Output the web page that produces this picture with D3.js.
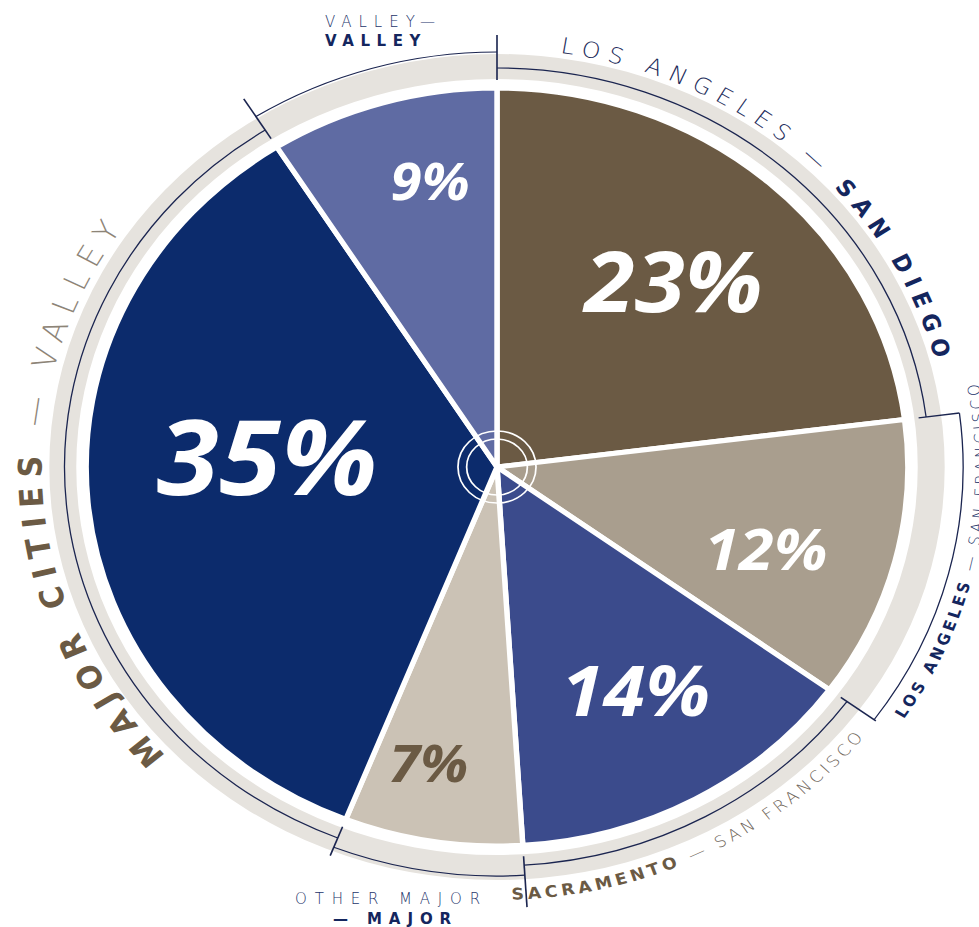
<!DOCTYPE html>
<html>
<head>
<meta charset="utf-8">
<script src="https://cdn.jsdelivr.net/npm/d3@7"></script>
<style>
  body { margin: 0; background: #fff; }
  svg { display: block; }
</style>
</head>
<body>
<div id="chart"></div>
<script>
// slices, clockwise from 12 o'clock
const shares = [23, 12, 14, 7, 35, 9];
const shareLabels = ["23%", "12%", "14%", "7%", "35%", "9%"];
const captionA = ["LOS ANGELES \u2014", "LOS ANGELES", "SACRAMENTO", "OTHER MAJOR", "MAJOR CITIES", "VALLEY\u2014"];
const captionB = ["SAN DIEGO", "\u2014 SAN FRANCISCO", "\u2014 SAN FRANCISCO", "\u2014 MAJOR", "\u2014 VALLEY", "VALLEY"];

// styling
const sliceColors = ["#6b5a44", "#a99e8e", "#3b4b8c", "#cbc2b5", "#0c2b6c", "#5f6ba3"];
const pctColors = ["#fff", "#fff", "#fff", "#6b5a44", "#fff", "#fff"];
const pctSize = [84, 58, 70, 52, 104, 52];
const pctRadius = [0.65, 0.69, 0.68, 0.80, 0.56, 0.77];
const pctNudge = [0, 4, -1, 3, 8, 4];          // degrees
const boldB = [true, false, false, true, false, true];
const strongColor = ["#14265e", "#14265e", "#6b5a44", "#14265e", "#6b5a44", "#14265e"];
const softColor = ["#1c2b5a", "#24346a", "#6f665a", "#24346a", "#8d8477", "#24346a"];
const ringLineR = [399, 430, 399, 409, 399, 415];
const tickR = [[387, 432], [392, 430], [392, 432], [390, 441], [387, 418], [389, 436]];
// arc captions: mode, baseline radius, span (deg), nudge (deg), font size
const capMode = ["out", "in", "in", "flat", "out", "flat"];
const capR = [418, 452, 433, 0, 420, 0];
const capSpan = [68, 45, 50, 0, 79, 0];
const capNudge = [0.6, -3, 2, 0, 1.5, 0];
const capSize = [22, 15, 16, 15, 30, 15];

const W = 979, H = 927;
const cx = 497, cy = 467, R = 379, sx = 1.084;
const rad = d => d * Math.PI / 180;

const svg = d3.select("#chart").append("svg")
    .attr("width", W)
    .attr("height", H);
const defs = svg.append("defs");

const g = svg.append("g")
    .attr("transform", `translate(${cx},${cy}) scale(${sx},1)`);

const pie = d3.pie().sort(null).value(d => d);
const arcs = pie(shares);
const arc = d3.arc().innerRadius(0).outerRadius(R);

// grey ring
g.append("path")
    .attr("d", d3.arc()({innerRadius: 388, outerRadius: 413, startAngle: 0, endAngle: 2 * Math.PI}))
    .attr("fill", "#e6e3de");

// slices
g.selectAll("path.slice")
    .data(arcs)
    .join("path")
    .attr("class", "slice")
    .attr("d", arc)
    .attr("fill", (d, i) => sliceColors[i])
    .attr("stroke", "#fff")
    .attr("stroke-width", 5)
    .attr("stroke-linejoin", "round");

// centre rings
[28, 36].forEach(r => {
    g.append("circle").attr("r", r)
        .attr("fill", "none").attr("stroke", "#fff").attr("stroke-width", 1.6);
});

function arcPath(r, a0, a1, ccw) {
    const p = d3.path();
    if (!ccw) p.arc(0, 0, r, a0 - Math.PI / 2, a1 - Math.PI / 2, false);
    else p.arc(0, 0, r, a1 - Math.PI / 2, a0 - Math.PI / 2, true);
    return p.toString();
}

// thin navy lines in the ring, one per group
arcs.forEach((d, i) => {
    g.append("path")
        .attr("d", arcPath(ringLineR[i], d.startAngle, d.endAngle, false))
        .attr("fill", "none")
        .attr("stroke", "#1b2550")
        .attr("stroke-width", 1.2);
    const a = d.startAngle;
    g.append("line")
        .attr("x1", tickR[i][0] * Math.sin(a)).attr("y1", -tickR[i][0] * Math.cos(a))
        .attr("x2", tickR[i][1] * Math.sin(a)).attr("y2", -tickR[i][1] * Math.cos(a))
        .attr("stroke", "#1b2550")
        .attr("stroke-width", 1.5);
});

// percentages
g.selectAll("text.pct")
    .data(arcs)
    .join("text")
    .attr("class", "pct")
    .attr("x", (d, i) => R * pctRadius[i] * Math.sin((d.startAngle + d.endAngle) / 2 + rad(pctNudge[i])))
    .attr("y", (d, i) => -R * pctRadius[i] * Math.cos((d.startAngle + d.endAngle) / 2 + rad(pctNudge[i])) + pctSize[i] * 0.36)
    .attr("text-anchor", "middle")
    .attr("font-family", "'Open Sans', sans-serif")
    .attr("font-weight", 700)
    .attr("font-style", "italic")
    .attr("font-size", (d, i) => pctSize[i])
    .attr("fill", (d, i) => pctColors[i])
    .text((d, i) => shareLabels[i]);

function addParts(sel, i, joiner) {
    const boldA = !boldB[i];
    sel.append("tspan").text(captionA[i] + joiner)
        .attr("font-weight", boldA ? 700 : 200)
        .attr("fill", boldA ? strongColor[i] : softColor[i]);
    sel.append("tspan").text(captionB[i])
        .attr("font-weight", boldA ? 200 : 700)
        .attr("fill", boldA ? softColor[i] : strongColor[i]);
}

function spread(textEl, target) {
    const len = textEl.node().getComputedTextLength();
    const n = textEl.text().length;
    textEl.attr("letter-spacing", Math.max(0, (target - len) / n));
}

// curved captions
arcs.forEach((d, i) => {
    if (capMode[i] === "flat") return;
    const mid = (d.startAngle + d.endAngle) / 2 + rad(capNudge[i]);
    const id = "cap" + i;
    defs.append("path")
        .attr("id", id)
        .attr("d", arcPath(capR[i], mid - Math.PI / 2, mid + Math.PI / 2, capMode[i] === "in"));
    const t = g.append("text")
        .attr("font-family", "'DejaVu Sans', sans-serif")
        .attr("font-size", capSize[i]);
    const tp = t.append("textPath")
        .attr("href", "#" + id)
        .attr("startOffset", "50%")
        .attr("text-anchor", "middle");
    addParts(tp, i, " ");
    spread(t, rad(capSpan[i]) * capR[i]);
});

// flat captions (screen coordinates)
const flatLines = {
    5: [{x: 325, y: 27, w: 117}, {x: 325, y: 46, w: 102}],
    3: [{x: 295, y: 904, w: 193}, {x: 333, y: 924, w: 125}]
};
Object.keys(flatLines).forEach(k => {
    const i = +k;
    const boldA = !boldB[i];
    const parts = [captionA[i], captionB[i]];
    flatLines[k].forEach((p, j) => {
        const heavy = j === 0 ? boldA : !boldA;
        const t = svg.append("text")
            .attr("x", p.x).attr("y", p.y)
            .attr("font-family", "'DejaVu Sans', sans-serif")
            .attr("font-size", capSize[i])
            .attr("font-weight", heavy ? 700 : 200)
            .attr("fill", heavy ? strongColor[i] : softColor[i])
            .text(parts[j]);
        spread(t, p.w);
    });
});
</script>
</body>
</html>
